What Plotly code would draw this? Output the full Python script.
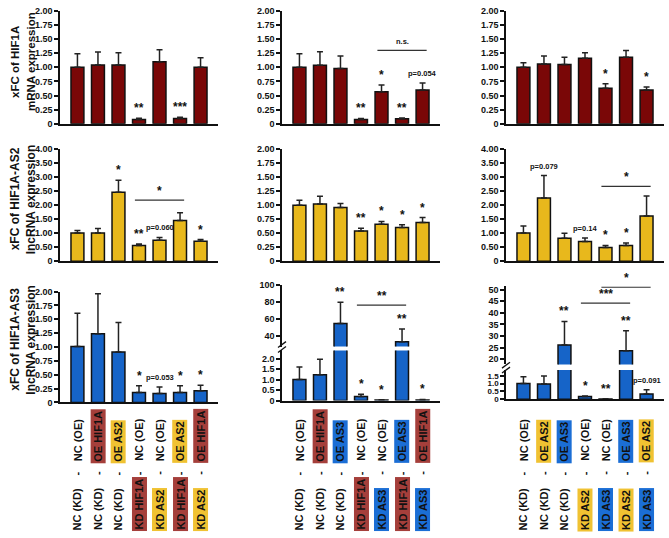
import plotly.graph_objects as go

W, H = 669, 538
def fx(p): return p / W
def fy(p): return 1 - p / H

positions = [0, 1, 2, 3, 4, 5, 6]

# ---------------- data ----------------
# Row 1: xFC of HIF1A mRNA
r1c1_vals = [1.00, 1.04, 1.04, 0.077, 1.10, 0.094, 1.00]
r1c1_errs = [0.24, 0.23, 0.22, 0.02, 0.21, 0.02, 0.17]
r1c1_sig = ["", "", "", "**", "", "***", ""]

r1c2_vals = [1.00, 1.035, 0.98, 0.075, 0.567, 0.087, 0.60]
r1c2_errs = [0.24, 0.24, 0.22, 0.02, 0.12, 0.015, 0.12]
r1c2_sig = ["", "", "", "**", "*", "**", "p=0.054"]

r1c3_vals = [1.00, 1.06, 1.05, 1.16, 0.63, 1.18, 0.60]
r1c3_errs = [0.08, 0.14, 0.13, 0.10, 0.08, 0.12, 0.05]
r1c3_sig = ["", "", "", "", "*", "", "*"]

# Row 2: xFC of HIF1A-AS2 lncRNA
r2c1_vals = [1.01, 1.01, 2.46, 0.56, 0.75, 1.45, 0.71]
r2c1_errs = [0.09, 0.16, 0.43, 0.05, 0.10, 0.28, 0.06]
r2c1_sig = ["", "", "*", "**", "p=0.060", "", "*"]

r2c2_vals = [1.00, 1.02, 0.96, 0.54, 0.66, 0.60, 0.69]
r2c2_errs = [0.09, 0.14, 0.07, 0.05, 0.05, 0.05, 0.09]
r2c2_sig = ["", "", "", "**", "*", "*", "*"]

r2c3_vals = [1.01, 2.26, 0.82, 0.70, 0.49, 0.56, 1.61]
r2c3_errs = [0.25, 0.80, 0.18, 0.13, 0.07, 0.09, 0.72]
r2c3_sig = ["", "p=0.079", "", "p=0.14", "*", "*", ""]

# Row 3: xFC of HIF1A-AS3 lncRNA
r3c1_vals = [1.01, 1.24, 0.91, 0.18, 0.16, 0.18, 0.21]
r3c1_errs = [0.60, 0.72, 0.53, 0.12, 0.12, 0.12, 0.10]
r3c1_sig = ["", "", "", "*", "p=0.053", "*", "*"]

r3c2_vals = [1.01, 1.23, 54.2, 0.19, 0.03, 32.7, 0.03]
r3c2_errs = [0.60, 0.75, 25.0, 0.11, 0.01, 15.0, 0.02]
r3c2_sig = ["", "", "**", "*", "*", "**", "*"]

r3c3_vals = [1.00, 0.98, 26.2, 0.17, 0.02, 23.7, 0.33]
r3c3_errs = [0.44, 0.50, 10.1, 0.04, 0.01, 8.6, 0.27]
r3c3_sig = ["", "", "**", "*", "**", "**", "p=0.091"]

# bracket comparisons: (axis n, from bar, to bar, level, label)
brackets = [
    (2, 4, 6, 1.30, "n.s."),
    (4, 3, 5, 2.18, "*"),
    (6, 4, 6, 2.67, "*"),
    (9, 3, 5, 76.0, "**"),
    (11, 3, 5, 44.2, "***"),
    (11, 4, 6, 51.0, "*"),
]

# category labels
col1_top = ["NC (OE)", "OE HIF1A", "OE AS2", "NC (OE)", "NC (OE)", "OE AS2", "OE HIF1A"]
col1_bot = ["NC (KD)", "NC (KD)", "NC (KD)", "KD HIF1A", "KD AS2", "KD HIF1A", "KD AS2"]
col2_top = ["NC (OE)", "OE HIF1A", "OE AS3", "NC (OE)", "NC (OE)", "OE AS3", "OE HIF1A"]
col2_bot = ["NC (KD)", "NC (KD)", "NC (KD)", "KD HIF1A", "KD AS3", "KD HIF1A", "KD AS3"]
col3_top = ["NC (OE)", "OE AS2", "OE AS3", "NC (OE)", "NC (OE)", "OE AS3", "OE AS2"]
col3_bot = ["NC (KD)", "NC (KD)", "NC (KD)", "KD AS2", "KD AS3", "KD AS2", "KD AS3"]

row_titles_line1 = ["xFC of HIF1A", "xFC of HIF1A-AS2", "xFC of HIF1A-AS3"]
row_titles_line2 = ["mRNA expression", "lncRNA expression", "lncRNA expression"]

# ---------------- styles ----------------
FONT = "Liberation Sans, Arial, sans-serif"
MAROON = "#7A0707"
GOLD = "#E8B81C"
BLUE = "#1664C8"
LBL_RED = "#A53F3B"
LBL_GOLD = "#F0C232"
LBL_BLUE = "#1B6ED5"

cols_px = [(60, 218), (282, 440), (506, 664)]
XR = [-0.85, 6.85]

def ticks(start, stop, step):
    out = []
    v = start
    while v <= stop + 1e-9:
        out.append(round(v, 4))
        v += step
    return out

specs = [
    dict(n=1, col=0, ypx=(6, 121), yr=[0, 2], tv=ticks(0, 2, 0.25), fmt="{:.2f}", vals=r1c1_vals, errs=r1c1_errs, color=MAROON, xline=True),
    dict(n=2, col=1, ypx=(6, 121), yr=[0, 2], tv=ticks(0, 2, 0.25), fmt="{:.2f}", vals=r1c2_vals, errs=r1c2_errs, color=MAROON, xline=True),
    dict(n=3, col=2, ypx=(6, 121), yr=[0, 2], tv=ticks(0, 2, 0.25), fmt="{:.2f}", vals=r1c3_vals, errs=r1c3_errs, color=MAROON, xline=True),
    dict(n=4, col=0, ypx=(147, 261), yr=[0, 4], tv=ticks(0, 4, 0.5), fmt="{:.2f}", vals=r2c1_vals, errs=r2c1_errs, color=GOLD, xline=True),
    dict(n=5, col=1, ypx=(147, 261), yr=[0, 2], tv=ticks(0, 2, 0.25), fmt="{:.2f}", vals=r2c2_vals, errs=r2c2_errs, color=GOLD, xline=True),
    dict(n=6, col=2, ypx=(147, 261), yr=[0, 4], tv=ticks(0, 4, 0.5), fmt="{:.2f}", vals=r2c3_vals, errs=r2c3_errs, color=GOLD, xline=True),
    dict(n=7, col=0, ypx=(292, 405), yr=[0, 2], tv=ticks(0, 2, 0.25), fmt="{:.2f}", vals=r3c1_vals, errs=r3c1_errs, color=BLUE, xline=True),
    dict(n=8, col=1, ypx=(352, 403), yr=[0, 2.4], tv=ticks(0, 2, 0.5), fmt="{:.1f}", vals=r3c2_vals, errs=r3c2_errs, color=BLUE, xline=True),
    dict(n=9, col=1, ypx=(285, 348), yr=[27, 100], tv=ticks(40, 100, 20), fmt="{:.0f}", vals=r3c2_vals, errs=r3c2_errs, color=BLUE, xline=False),
    dict(n=10, col=2, ypx=(372, 401.7), yr=[0, 1.86], tv=ticks(0, 1.5, 0.5), fmt="{:.1f}", vals=r3c3_vals, errs=r3c3_errs, color=BLUE, xline=True, tfs=8),
    dict(n=11, col=2, ypx=(286.4, 366.2), yr=[17.8, 51.5], tv=ticks(20, 50, 5), fmt="{:.0f}", vals=r3c3_vals, errs=r3c3_errs, color=BLUE, xline=False),
]

fig = go.Figure()
layout = {}

for s in specs:
    n = s["n"]
    sfx = "" if n == 1 else str(n)
    fig.add_trace(go.Bar(
        x=positions, y=s["vals"], width=0.63,
        xaxis="x" + sfx, yaxis="y" + sfx,
        marker=dict(color=s["color"], line=dict(color="#111111", width=1.5)),
        error_y=dict(type="data", array=s["errs"], arrayminus=[0] * len(s["errs"]),
                     symmetric=False, color="#222222", thickness=1.5, width=3),
        showlegend=False, hoverinfo="skip",
    ))
    x0, x1 = cols_px[s["col"]]
    ytop, ybot = s["ypx"]
    layout["xaxis" + sfx] = dict(
        domain=[fx(x0), fx(x1)], range=XR, anchor="y" + sfx,
        showline=s["xline"], linecolor="#111111", linewidth=1.5,
        showticklabels=False, ticks="", showgrid=False, zeroline=False, fixedrange=True,
    )
    layout["yaxis" + sfx] = dict(
        domain=[fy(ybot), fy(ytop)], range=s["yr"], anchor="x" + sfx,
        showline=True, linecolor="#111111", linewidth=1.5,
        ticks="outside", ticklen=4, tickwidth=1.5, tickcolor="#111111",
        tickvals=s["tv"], ticktext=[("0" if v == 0 else s["fmt"].format(v)) for v in s["tv"]],
        tickfont=dict(family=FONT, size=s.get("tfs", 9), color="#111111", weight="bold"),
        showgrid=False, zeroline=False, fixedrange=True,
    )

annotations = []
shapes = []

# significance marks above bars: (sig, vals, errs, lower axis, upper axis, lower max)
sig_panels = [
    (r1c1_sig, r1c1_vals, r1c1_errs, 1, None, 2),
    (r1c2_sig, r1c2_vals, r1c2_errs, 2, None, 2),
    (r1c3_sig, r1c3_vals, r1c3_errs, 3, None, 2),
    (r2c1_sig, r2c1_vals, r2c1_errs, 4, None, 4),
    (r2c2_sig, r2c2_vals, r2c2_errs, 5, None, 2),
    (r2c3_sig, r2c3_vals, r2c3_errs, 6, None, 4),
    (r3c1_sig, r3c1_vals, r3c1_errs, 7, None, 2),
    (r3c2_sig, r3c2_vals, r3c2_errs, 8, 9, 2.4),
    (r3c3_sig, r3c3_vals, r3c3_errs, 10, 11, 1.86),
]

def axn(n):
    return "" if n == 1 else str(n)

for sig, vals, errs, lo, up, lomax in sig_panels:
    for i, t in enumerate(sig):
        if not t:
            continue
        top = vals[i] + errs[i]
        n = up if (up is not None and top > lomax) else lo
        is_p = t.startswith("p")
        annotations.append(dict(
            x=positions[i], y=top, xref="x" + axn(n), yref="y" + axn(n),
            text="<b>" + t + "</b>", showarrow=False, xanchor="center", yanchor="bottom",
            yshift=3 if is_p else 1,
            font=dict(family=FONT, size=7.5 if is_p else 12, color="#111111"),
        ))

for n, i, j, lvl, lab in brackets:
    shapes.append(dict(type="line", xref="x" + axn(n), yref="y" + axn(n),
                       x0=positions[i] - 0.2, x1=positions[j] + 0.2, y0=lvl, y1=lvl,
                       line=dict(color="#333333", width=1.2)))
    small = lab == "n.s."
    annotations.append(dict(
        x=(positions[i] + positions[j]) / 2, y=lvl, xref="x" + axn(n), yref="y" + axn(n),
        text="<b>" + lab + "</b>", showarrow=False, xanchor="center", yanchor="bottom",
        yshift=2 if small else 0,
        font=dict(family=FONT, size=7.5 if small else 12, color="#111111"),
    ))

# axis break marks
for (xa, ya) in [(282, 346), (282, 351), (506, 367), (506, 372)]:
    shapes.append(dict(type="line", xref="paper", yref="paper",
                       x0=fx(xa - 4), y0=fy(ya + 3), x1=fx(xa + 4), y1=fy(ya - 3),
                       line=dict(color="#111111", width=1.3)))

# row titles (two rotated lines each)
for l1, l2, yc, fs in zip(row_titles_line1, row_titles_line2, [58, 198, 341], [11.5, 12, 12]):
    for t, xc in [(l1, 15), (l2, 31)]:
        annotations.append(dict(
            x=fx(xc), y=fy(yc), xref="paper", yref="paper", textangle=-90,
            text="<b>" + t + "</b>", showarrow=False,
            xanchor="center", yanchor="middle",
            font=dict(family=FONT, size=fs, color="#111111"),
        ))

def label_color(t):
    if t.startswith("NC"):
        return None
    if "HIF1A" in t:
        return LBL_RED
    if "AS2" in t:
        return LBL_GOLD
    if "AS3" in t:
        return LBL_BLUE
    return None

for xref, tops, bots in [("x7", col1_top, col1_bot), ("x8", col2_top, col2_bot), ("x10", col3_top, col3_bot)]:
    for i in range(len(tops)):
        for t, ybottom in [(tops[i], 467), (bots[i], 537)]:
            c = label_color(t)
            a = dict(x=positions[i], y=fy(ybottom), xref=xref, yref="paper",
                     text="<b>" + t + "</b>", textangle=-90, showarrow=False,
                     xanchor="center", yanchor="bottom", borderpad=1,
                     font=dict(family=FONT, size=11, color="#111111"))
            if c:
                a["bgcolor"] = c
            annotations.append(a)
        annotations.append(dict(x=positions[i], y=fy(477), xref=xref, yref="paper",
                                text="<b>-</b>", textangle=-90, showarrow=False,
                                xanchor="center", yanchor="middle",
                                font=dict(family=FONT, size=11, color="#111111")))

layout.update(dict(
    width=W, height=H, margin=dict(l=0, r=0, t=0, b=0),
    paper_bgcolor="white", plot_bgcolor="white", showlegend=False,
    font=dict(family=FONT, color="#111111"),
    annotations=annotations, shapes=shapes,
))
fig.update_layout(**layout)
fig.write_html("out.html")
